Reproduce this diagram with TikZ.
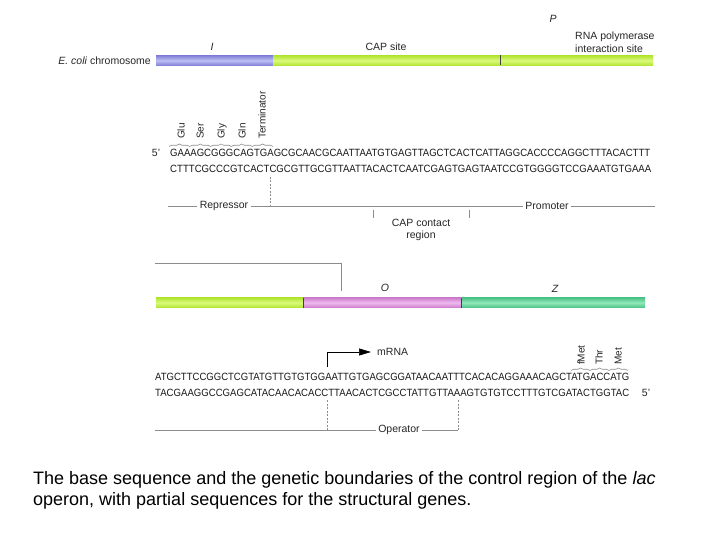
\documentclass[tikz,border=0pt]{standalone}
\usepackage{fontspec}
\setmainfont{Liberation Sans}
\usetikzlibrary{decorations.pathreplacing,arrows.meta}
\definecolor{bluee}{RGB}{128,128,215}
\definecolor{bluel}{RGB}{190,190,245}
\definecolor{greene}{RGB}{178,228,48}
\definecolor{greenl}{RGB}{218,250,125}
\definecolor{mage}{RGB}{205,125,205}
\definecolor{magl}{RGB}{238,185,238}
\definecolor{teale}{RGB}{75,195,135}
\definecolor{teall}{RGB}{145,232,185}
\begin{document}
\begin{tikzpicture}[x=1pt,y=-1pt,
  lbl/.style={font=\fontsize{10.5}{12.5}\selectfont, text=black!85, inner sep=0pt},
  rlbl/.style={font=\fontsize{10}{12}\selectfont, rotate=90, anchor=west, inner sep=0pt, text height=7pt, text depth=2pt, text=black!85},
  seq/.style={font=\fontsize{10.5}{12}\selectfont, inner sep=0pt, anchor=west, text=black!90},
  guide/.style={draw=black!45, line width=0.6pt},
  dguide/.style={guide, dash pattern=on 2pt off 1.5pt},
  brc/.style={guide, decorate, decoration={brace, amplitude=2.5pt}},
  tick/.style={draw=black!75, line width=1pt},
  gap/.style={lbl, fill=white, inner xsep=2.5pt, inner ysep=1pt}
  ]
\useasboundingbox[fill=white] (0,0) rectangle (720,540);

% ---- top chromosome bar
\shade[top color=bluee, bottom color=bluee, middle color=bluel] (156,55.5) rectangle (273,65.5);
\shade[top color=greene, bottom color=greene, middle color=greenl] (273,55.5) rectangle (653,65.5);
\coordinate (t1a) at (500,55.5); \coordinate (t1b) at (500,65.5);
\draw[tick] (t1a) -- (t1b);

\node[lbl, anchor=east] (chr) at (151,60.5) {\textit{E. coli} chromosome};
\node[lbl] (lI) at (212,47) {\itshape I};
\node[lbl] (cap) at (386,47) {CAP site};
\node[lbl] (lP) at (553,19) {\itshape P};
\node[lbl, anchor=west, align=left] (rnap) at (575,42) {RNA polymerase\\interaction site};

% ---- top sequence
\foreach \i in {0,...,4} {
  \draw[brc] ({169+20.8*\i},146.5) -- ({169+20.8*(\i+1)},146.5);
}
\node[rlbl] (glu) at (182,139) {Glu};
\node[rlbl] (ser) at (201,139) {Ser};
\node[rlbl] (gly) at (222,139) {Gly};
\node[rlbl] (gln) at (243,139) {Gln};
\node[rlbl] (ter) at (263,139) {Terminator};

\node[lbl] (p5a) at (156,153) {5\textquoteright};
\node[seq] (s1) at (170,153) {\resizebox{480pt}{\height}{GAAAGCGGGCAGTGAGCGCAACGCAATTAATGTGAGTTAGCTCACTCATTAGGCACCCCAGGCTTTACACTTT}};
\node[seq] (s2) at (170,168.5) {\resizebox{481pt}{\height}{CTTTCGCCCGTCACTCGCGTTGCGTTAATTACACTCAATCGAGTGAGTAATCCGTGGGGTCCGAAATGTGAAA}};

% ---- repressor / promoter
\coordinate (r0) at (168,206); \coordinate (r1) at (655,206);
\draw[guide] (r0) -- (r1);
\coordinate (d0) at (270,177); \coordinate (d1) at (270,206);
\draw[dguide] (d0) -- (d1);
\node[gap] (rep) at (224,206) {Repressor};
\node[gap] (pro) at (547,206) {Promoter};
\coordinate (k0) at (373,210); \coordinate (k1) at (373,218);
\coordinate (k2) at (469,210); \coordinate (k3) at (469,218);
\draw[guide] (k0) -- (k1);
\draw[guide] (k2) -- (k3);
\node[lbl, align=center] (capc) at (421,230) {CAP contact\\region};

% ---- connector to second bar
\coordinate (c0) at (155,263); \coordinate (c1) at (341,263); \coordinate (c2) at (341,291);
\draw[guide] (c0) -- (c1) -- (c2);

% ---- bottom bar
\shade[top color=greene, bottom color=greene, middle color=greenl] (156,297.7) rectangle (303,307.7);
\shade[top color=mage, bottom color=mage, middle color=magl] (303,297.7) rectangle (461.5,307.7);
\shade[top color=teale, bottom color=teale, middle color=teall] (461.5,297.7) rectangle (645,307.7);
\coordinate (t2a) at (303,297.7); \coordinate (t2b) at (303,307.7);
\coordinate (t3a) at (461.5,297.7); \coordinate (t3b) at (461.5,307.7);
\draw[tick] (t2a) -- (t2b);
\draw[tick] (t3a) -- (t3b);
\node[lbl] (lO) at (385,288) {\itshape O};
\node[lbl] (lZ) at (555,289) {\itshape Z};

% ---- mRNA arrow
\node[lbl, anchor=west] (mrna) at (377,352) {mRNA};
\coordinate (m0) at (327.5,367);
\coordinate (m1) at (371,352);
\draw[draw=black, line width=0.7pt, -{Triangle[length=12pt,width=7pt]}] (m0) |- (m1);

% ---- bottom sequence
\foreach \i in {0,...,2} {
  \draw[brc] ({571+19*\i},370.5) -- ({571+19*(\i+1)},370.5);
}
\node[rlbl] (fmet) at (582,365) {fMet};
\node[rlbl] (thr) at (600,365) {Thr};
\node[rlbl] (met) at (619,365) {Met};

\node[seq] (b1) at (155,376.5) {\resizebox{474pt}{\height}{ATGCTTCCGGCTCGTATGTTGTGTGGAATTGTGAGCGGATAACAATTTCACACAGGAAACAGCTATGACCATG}};
\node[seq] (b2) at (155,392.5) {\resizebox{474pt}{\height}{TACGAAGGCCGAGCATACAACACACCTTAACACTCGCCTATTGTTAAAGTGTGTCCTTTGTCGATACTGGTAC}};
\node[lbl] (p5b) at (646,392.5) {5\textquoteright};

% ---- operator
\coordinate (o0) at (155,430); \coordinate (o1) at (458,430);
\draw[guide] (o0) -- (o1);
\coordinate (e0) at (327.5,400); \coordinate (e1) at (327.5,430);
\coordinate (e2) at (458,400); \coordinate (e3) at (458,430);
\draw[dguide] (e0) -- (e1);
\draw[dguide] (e2) -- (e3);
\node[gap] (op) at (399,430) {Operator};

% ---- caption
\node[anchor=base west, inner sep=0pt, font=\fontsize{18}{22}\selectfont] (cap1) at (33,484) {The base sequence and the genetic boundaries of the control region of the \textit{lac}};
\node[anchor=base west, inner sep=0pt, font=\fontsize{18}{22}\selectfont] (cap2) at (33,505) {operon, with partial sequences for the structural genes.};
\end{tikzpicture}
\end{document}
